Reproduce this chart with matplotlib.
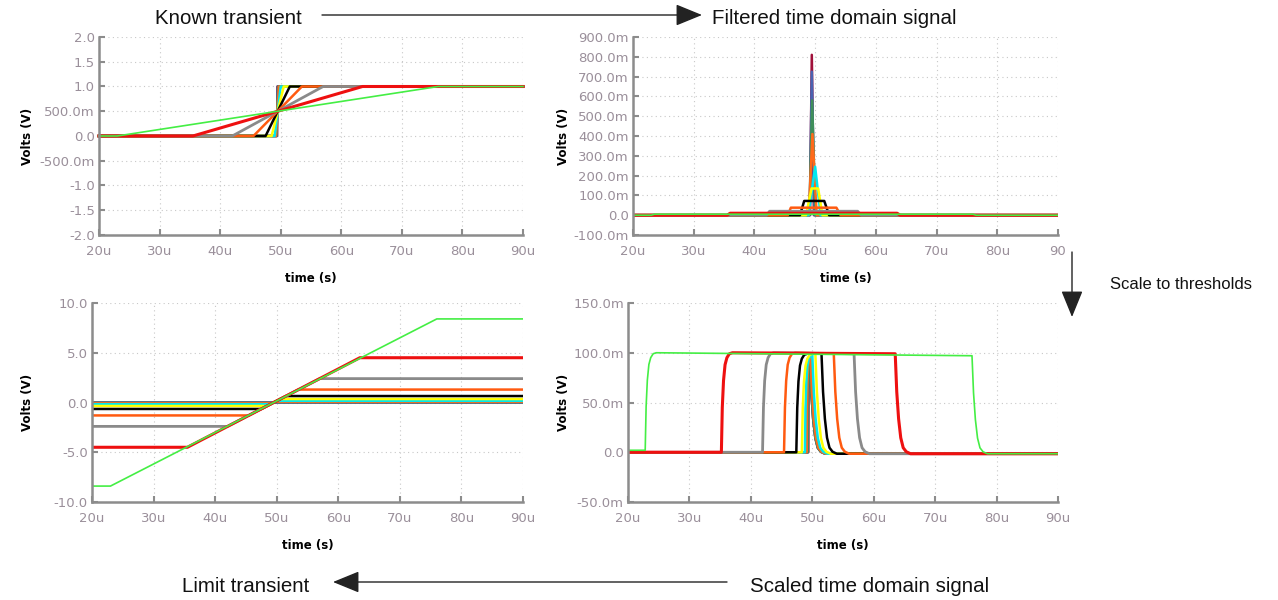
import numpy as np
import matplotlib
matplotlib.use("Agg")
import matplotlib.pyplot as plt

plt.rcParams['font.family'] = ['Liberation Sans', 'DejaVu Sans']

# traces, narrowest first so wider ones sit on top (as in the reference)
colors = ['#a0103a', '#4a62b0', '#3f8f5a', '#ff6a1a', '#00e8f0', '#ffff00',
          '#000000', '#ff5a10', '#8a8a8a', '#ee1010', '#44ee44']
widths = [1.8, 1.8, 1.8, 1.8, 1.8, 1.8, 1.8, 1.8, 2.0, 2.2, 1.2]

# known transient: ramp start / end times (us)
t_on = [49.40, 49.35, 49.30, 49.20, 49.0, 48.5, 47.5, 45.5, 42.0, 35.5, 23.0]
t_off = [49.45, 49.50, 49.60, 49.70, 50.0, 50.5, 51.5, 53.5, 57.0, 63.5, 76.0]

# filtered signal: (on, top start, top end, off, peak)
f_on = [49.15, 49.10, 49.05, 48.95, 48.9, 48.5, 47.5, 45.5, 42.0, 35.5, 23.0]
f_top1 = [49.45, 49.45, 49.50, 49.55, 50.0, 49.4, 48.2, 46.0, 42.5, 36.0, 23.5]
f_top2 = [49.45, 49.45, 49.50, 49.55, 50.0, 50.5, 51.5, 53.5, 57.0, 63.5, 76.0]
f_off = [49.80, 49.90, 50.05, 50.25, 50.9, 51.2, 52.3, 54.2, 57.6, 64.0, 76.5]
f_peak = [0.810, 0.725, 0.580, 0.410, 0.245, 0.135, 0.072, 0.038, 0.020, 0.010, 0.005]

# limit transient: clip levels (V)
lim = [0.01, 0.02, 0.04, 0.08, 0.17, 0.35, 0.65, 1.3, 2.4, 4.5, 8.4]

# scaled signal: pulse on/off (us), level at start/end of plateau
s_on = [49.35, 49.30, 49.25, 49.10, 48.8, 48.3, 47.4, 45.4, 41.9, 35.2, 22.8]
s_off = [49.60, 49.60, 49.60, 49.70, 50.0, 50.5, 51.5, 53.5, 56.8, 63.5, 76.0]
s_lvl1 = [0.097, 0.097, 0.097, 0.098, 0.098, 0.099, 0.099, 0.100, 0.100, 0.100, 0.100]
s_lvl2 = [0.097, 0.097, 0.097, 0.098, 0.098, 0.099, 0.099, 0.099, 0.099, 0.099, 0.097]
s_pre = [0, 0, 0, 0, 0, 0, 0, 0, 0, 0, 0.002]
s_post = -0.0015
# edge shapes
rise_dt = np.array([0, 0.15, 0.35, 0.6, 0.9, 1.3, 1.8])
rise_fr = np.array([0, 0.45, 0.72, 0.88, 0.95, 0.99, 1.0])
fall_dt = np.array([0, 0.25, 0.55, 0.9, 1.3, 1.8, 2.5])
fall_fr = np.array([1, 0.62, 0.35, 0.16, 0.06, 0.02, 0])

x_ticks = [20, 30, 40, 50, 60, 70, 80, 90]
x_lbls = ['20u', '30u', '40u', '50u', '60u', '70u', '80u', '90u']
x_lbls_tr = x_lbls[:-1] + ['90']

tl_ticks = [2.0, 1.5, 1.0, 0.5, 0.0, -0.5, -1.0, -1.5, -2.0]
tl_lbls = ['2.0', '1.5', '1.0', '500.0m', '0.0', '-500.0m', '-1.0', '-1.5', '-2.0']
tr_ticks = [0.9, 0.8, 0.7, 0.6, 0.5, 0.4, 0.3, 0.2, 0.1, 0.0, -0.1]
tr_lbls = ['900.0m', '800.0m', '700.0m', '600.0m', '500.0m', '400.0m', '300.0m',
           '200.0m', '100.0m', '0.0', '-100.0m']
bl_ticks = [10, 5, 0, -5, -10]
bl_lbls = ['10.0', '5.0', '0.0', '-5.0', '-10.0']
br_ticks = [0.15, 0.10, 0.05, 0.0, -0.05]
br_lbls = ['150.0m', '100.0m', '50.0m', '0.0', '-50.0m']

W, H = 1278, 600
fig = plt.figure(figsize=(W / 100, H / 100), dpi=100)


def px_axes(x0, y0, x1, y1):
    return fig.add_axes([x0 / W, 1 - y1 / H, (x1 - x0) / W, (y1 - y0) / H])


def style(ax, yt, yl, ylim, lab_x, xl=x_lbls):
    ax.set_xlim(20, 90)
    ax.set_ylim(*ylim)
    ax.set_xticks(x_ticks)
    ax.set_xticklabels(xl)
    ax.set_yticks(yt)
    ax.set_yticklabels(yl)
    for s in ['top', 'right']:
        ax.spines[s].set_visible(False)
    for s in ['left', 'bottom']:
        ax.spines[s].set_color('#8c8c8c')
        ax.spines[s].set_linewidth(1.8)
    ax.tick_params(direction='in', length=4, width=1.5, color='#8c8c8c',
                   labelcolor='#9a8f9a', labelsize=9.5,
                   labelfontfamily='DejaVu Sans')
    ax.tick_params(axis='x', pad=7)
    ax.tick_params(axis='y', pad=3)
    ax.grid(True, linestyle=(0, (1, 3)), color='#c8c8c8', linewidth=0.8)
    ax.set_axisbelow(True)
    ax.set_ylabel('Volts (V)', fontsize=8.5, fontweight='bold',
                  family='DejaVu Sans')
    ax.set_xlabel('time (s)', fontsize=8.5, fontweight='bold',
                  family='DejaVu Sans', labelpad=10)
    bb = ax.get_position()
    ax.yaxis.set_label_coords((lab_x / W - bb.x0) / bb.width, 0.5)


# known transient
ax1 = px_axes(99, 37, 523, 235)
for i in range(len(colors)):
    ax1.plot([20, t_on[i], t_off[i], 90], [0, 0, 1, 1],
             color=colors[i], lw=widths[i], clip_on=False)
style(ax1, tl_ticks, tl_lbls, (-2, 2), 34)

# filtered signal
ax2 = px_axes(633, 37, 1058, 235)
for i in range(len(colors)):
    ax2.plot([20, f_on[i], f_top1[i], f_top2[i], f_off[i], 90],
             [0, 0, f_peak[i], f_peak[i], 0, 0],
             color=colors[i], lw=widths[i])
style(ax2, tr_ticks, tr_lbls, (-0.1, 0.9), 570, x_lbls_tr)

# limit transient
ax3 = px_axes(92, 303, 523, 502)
for i in range(len(colors)):
    ax3.plot([20, t_on[i], t_off[i], 90], [-lim[i], -lim[i], lim[i], lim[i]],
             color=colors[i], lw=widths[i])
style(ax3, bl_ticks, bl_lbls, (-10, 10), 34)

# scaled signal
ax4 = px_axes(628, 303, 1058, 502)
for i in range(len(colors)):
    wdt = s_off[i] - s_on[i]
    k = min(1.0, wdt / rise_dt[-1])
    rt = s_on[i] + rise_dt * k
    rv = s_pre[i] + (s_lvl1[i] - s_pre[i]) * rise_fr
    ft = s_off[i] + fall_dt
    fv = s_post + (s_lvl2[i] - s_post) * fall_fr
    tt = np.concatenate([[20], rt, ft, [90]])
    vv = np.concatenate([[s_pre[i]], rv, fv, [s_post]])
    ax4.plot(tt, vv, color=colors[i], lw=widths[i])
style(ax4, br_ticks, br_lbls, (-0.05, 0.15), 570)

# flow annotations
txt = dict(fontsize=14.8, color='#111111', va='center')
fig.text(155 / W, 1 - 19 / H, 'Known transient', ha='left', **txt)
fig.text(712 / W, 1 - 19 / H, 'Filtered time domain signal', ha='left', **txt)
fig.text(182 / W, 1 - 586 / H, 'Limit transient', ha='left', **txt)
fig.text(750 / W, 1 - 586 / H, 'Scaled time domain signal', ha='left', **txt)
fig.text(1110 / W, 1 - 284 / H, 'Scale to thresholds', ha='left',
         fontsize=12, color='#111111', va='center')

arr = dict(arrowstyle='-|>,head_length=1.1,head_width=0.45', color='#222222',
           lw=1.0, shrinkA=0, shrinkB=0)


def arrow(x0, y0, x1, y1):
    fig.add_artist(matplotlib.patches.FancyArrowPatch(
        (x0 / W, 1 - y0 / H), (x1 / W, 1 - y1 / H),
        transform=fig.transFigure, mutation_scale=15, **arr))


arrow(322, 15, 702, 15)
arrow(1072, 252, 1072, 317)
arrow(727, 582, 333, 582)

fig.savefig('out.png', dpi=100)
